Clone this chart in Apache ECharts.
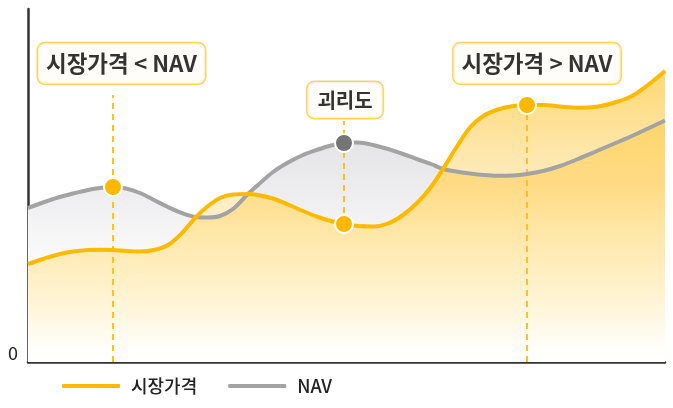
<!DOCTYPE html>
<html><head><meta charset="utf-8">
<style>html,body{margin:0;padding:0;background:#fff}#c{width:673px;height:408px}</style>
<script src="https://cdn.jsdelivr.net/npm/echarts@6/dist/echarts.min.js"></script></head>
<body><div id="c"></div>
<script>
const names = ['시장가격','NAV'];
const knotX = [0,15,30,45,60,72,85,98,112,126,140,154,168,180,192,205,220,230,245,260,275,290,303,316,330,345,360,375,390,403,415,428,442,456,470,485,499,515,532,550,570,590,605,620,637];
const marketY = [98,103,107.5,110.5,112,112.3,112,111,110.5,112,117,129,145,156,164,167.5,168,167,163.5,157.5,151,145,141,138,136,135.5,138.5,147,160,175,193,214,234.5,246.5,252.5,256,257,257,255.5,254.3,255.5,260.5,266.5,277,291];
const navY = [154,159.5,164.5,168.5,172,174,175,173.5,169,162,155,149,145,144.5,146,153,168,177,190,199.5,207,212.5,216.5,219,219.5,217,213,208,202.5,198,193,190.5,188.5,187,186.3,186.5,188,191,196,203,211.5,220,226.5,233.5,241.5];
const overlapRanges = [[168,220],[415,637]];
const pointX = [85,316,499];
const pointMarket = [112,138,257];
const pointNav = [175,219,188];
const calloutText = ['시장가격 < NAV','괴리도','시장가격 > NAV'];
const calloutSize = [22.5,20,22.5];
const calloutCenterX = [93.5,317,509];
const calloutY = [298.5,262,298.5];
const guideTop = [267,241,257];
const zero = '0';
const pair=(a,b)=>a.map((v,i)=>[v,b[i]]);
const market=pair(knotX,marketY), nav=pair(knotX,navY);
const font='"Noto Sans CJK KR"';
const SMOOTH=0.33;
const chart=echarts.init(document.getElementById('c'),null,{renderer:'canvas'});
const ramp=(y0,y1,stops)=>({type:'linear',global:true,x:0,y:y0,x2:0,y2:y1,
  colorStops:stops.map(([o,c])=>({offset:o,color:c}))});
const dark=ramp(120,362,[[0,'#FFD56A'],[.27,'#FFDB85'],[.45,'#FFE6A5'],[.62,'#FFEEC0'],[.79,'#FFF6DC'],[.93,'#FFFDF8'],[1,'#FFFFFF']]);
const light=ramp(70,230,[[0,'#FFD873'],[.6,'#FEE9B4'],[1,'#FFF2D0']]);
const gray=ramp(145,270,[[0,'#E5E5E7'],[.45,'#EFEFF1'],[1,'#FCFCFC']]);
const area=(data,color,z)=>({type:'line',silent:true,smooth:SMOOTH,symbol:'none',z,data,lineStyle:{width:0},
  areaStyle:{origin:'start',opacity:1,color}});
const guide=(x,y0,y1)=>({type:'line',silent:true,symbol:'none',z:5,data:[[x,y0],[x,y1]],
  lineStyle:{color:'#FFC020',width:2,type:[6,5]}});
const inRange=(d,r)=>d.filter(p=>p[0]>=r[0]&&p[0]<=r[1]);
chart.setOption({
  animation:false,
  textStyle:{fontFamily:font},
  grid:{left:28,right:8,top:9,bottom:46},
  legend:{left:57,top:372,itemWidth:58,itemHeight:4,itemGap:31,icon:'roundRect',selectedMode:false,
    data:names,textStyle:{fontSize:18,fontWeight:500,color:'#222',fontFamily:font,padding:[0,0,0,6]}},
  xAxis:{type:'value',min:0,max:637,splitLine:{show:false},axisTick:{show:false},axisLabel:{show:false},
    axisLine:{show:true,lineStyle:{color:'#333',width:2.5}}},
  yAxis:{type:'value',min:0,max:353,interval:353,splitLine:{show:false},axisTick:{show:false},
    axisLine:{show:true,lineStyle:{color:'#333',width:2.5}},
    axisLabel:{margin:10,fontSize:18,color:'#222',verticalAlign:'bottom',formatter:v=>v===0?zero:''}},
  series:[
    area(nav,gray,1),
    area(market,dark,2),
    ...overlapRanges.map(r=>area(inRange(market,r),light,3)),
    ...overlapRanges.map(r=>area(inRange(nav,r),dark,4)),
    ...pointX.map((x,i)=>guide(x,i===1?pointMarket[1]:0,guideTop[i])),
    {name:'NAV',type:'line',smooth:SMOOTH,symbol:'none',z:6,data:nav,
      lineStyle:{color:'#A3A3A3',width:4},itemStyle:{color:'#A3A3A3'}},
    {name:'시장가격',type:'line',smooth:SMOOTH,symbol:'none',z:7,data:market,
      lineStyle:{color:'#FFBA00',width:4},itemStyle:{color:'#FFBA00'}},
    {type:'scatter',silent:true,z:8,symbolSize:18,
      data:[
        {value:[pointX[0],pointNav[0]],itemStyle:{color:'#FFB800'}},
        {value:[pointX[1],pointMarket[1]],itemStyle:{color:'#FFB800'}},
        {value:[pointX[1],pointNav[1]],itemStyle:{color:'#757575'}},
        {value:[pointX[2],pointMarket[2]],itemStyle:{color:'#FFB800'}}
      ],
      itemStyle:{borderColor:'#fff',borderWidth:2,opacity:1}},
    {type:'scatter',silent:true,z:9,symbolSize:0,
      data:calloutText.map((t,i)=>({value:[calloutCenterX[i],calloutY[i]],
        label:{formatter:t,fontSize:calloutSize[i],padding:i===1?[8,10]:[9,8]}})),
      label:{show:true,position:'inside',align:'center',verticalAlign:'middle',fontWeight:700,color:'#000',
        fontFamily:font,backgroundColor:'#FFFDF8',borderColor:'#FFC83C',borderWidth:1.5,borderRadius:7}}
  ]
});
</script></body></html>
